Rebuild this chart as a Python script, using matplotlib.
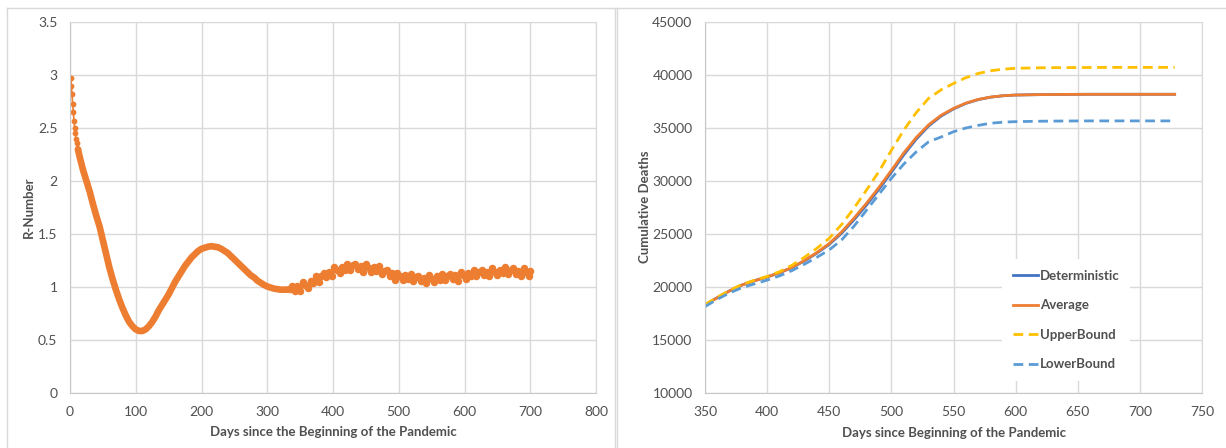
import matplotlib
matplotlib.use("Agg")
import matplotlib.pyplot as plt
from matplotlib.lines import Line2D

plt.rcParams['font.family'] = ['Lato', 'DejaVu Sans']

# ---- left chart: R-number ----
r_days = [1, 2, 3, 4, 5, 6, 7, 8, 9, 10, 12, 15, 20, 25, 30, 35, 40, 45, 50, 55,
          60, 65, 70, 75, 80, 85, 90, 95, 100, 105, 110, 115, 120, 125, 130, 135,
          140, 145, 150, 155, 160, 165, 170, 175, 180, 185, 190, 195, 200, 205,
          210, 215, 220, 225, 230, 235, 240, 245, 250, 255, 260, 265, 270, 275,
          280, 285, 290, 295, 300, 305, 310, 315, 320, 325, 330, 334]
r_vals = [2.975, 2.90, 2.82, 2.73, 2.65, 2.57, 2.50, 2.45, 2.40, 2.36, 2.30, 2.22,
          2.10, 2.00, 1.90, 1.78, 1.67, 1.57, 1.44, 1.31, 1.18, 1.07, 0.97, 0.88,
          0.80, 0.73, 0.67, 0.63, 0.60, 0.585, 0.585, 0.60, 0.63, 0.67, 0.72, 0.78,
          0.83, 0.88, 0.93, 0.99, 1.05, 1.10, 1.15, 1.20, 1.24, 1.28, 1.31, 1.34,
          1.36, 1.37, 1.38, 1.385, 1.38, 1.375, 1.36, 1.34, 1.32, 1.29, 1.26, 1.23,
          1.20, 1.17, 1.14, 1.11, 1.09, 1.06, 1.04, 1.02, 1.005, 0.995, 0.985, 0.98,
          0.975, 0.975, 0.975, 0.98]

# noisy (stochastic) part, every 4 days
noisy_days = list(range(338, 699, 4)) + [700]
noisy_vals = [1.01, 0.965, 1.005, 0.96, 1.045, 1.015, 0.995, 1.06, 1.04, 1.10,
              1.05, 1.10, 1.13, 1.095, 1.14, 1.105, 1.19, 1.16, 1.135, 1.19,
              1.165, 1.22, 1.16, 1.205, 1.22, 1.17, 1.20, 1.145, 1.215, 1.175,
              1.14, 1.185, 1.15, 1.195, 1.125, 1.155, 1.165, 1.105, 1.13, 1.07,
              1.135, 1.10, 1.065, 1.11, 1.075, 1.12, 1.055, 1.095, 1.105, 1.055,
              1.085, 1.035, 1.11, 1.08, 1.05, 1.10, 1.07, 1.125, 1.065, 1.105,
              1.125, 1.075, 1.11, 1.06, 1.14, 1.11, 1.08, 1.135, 1.105, 1.16,
              1.10, 1.14, 1.16, 1.11, 1.145, 1.10, 1.175, 1.14, 1.115, 1.165,
              1.135, 1.185, 1.12, 1.16, 1.175, 1.125, 1.155, 1.10, 1.175, 1.14,
              1.105, 1.15]

# ---- right chart: cumulative deaths ----
d_days = [350, 360, 370, 380, 390, 400, 410, 420, 430, 440, 450, 460, 470, 480,
          490, 500, 510, 520, 530, 540, 550, 560, 570, 580, 590, 600, 620, 640,
          660, 680, 700, 728]
deterministic = [18300, 19000, 19650, 20200, 20600, 20950, 21340, 21830, 22460,
                 23190, 24020, 25080, 26350, 27730, 29220, 30820, 32470, 33950,
                 35190, 36120, 36800, 37320, 37680, 37910, 38040, 38110, 38150,
                 38170, 38180, 38180, 38180, 38180]
average = [18300, 19000, 19650, 20200, 20600, 20950, 21350, 21850, 22500, 23250,
           24100, 25200, 26500, 27900, 29400, 31000, 32650, 34100, 35300, 36200,
           36850, 37350, 37700, 37920, 38050, 38110, 38150, 38170, 38180, 38180,
           38180, 38180]
upper = [18350, 19050, 19700, 20250, 20650, 21000, 21450, 22050, 22800, 23650,
         24600, 25900, 27450, 29150, 30900, 32900, 34800, 36450, 37800, 38600,
         39200, 39750, 40150, 40400, 40550, 40630, 40680, 40700, 40710, 40720,
         40720, 40720]
lower = [18150, 18850, 19450, 19950, 20300, 20650, 21050, 21550, 22150, 22800,
         23500, 24450, 25750, 27250, 28750, 30250, 31600, 32750, 33700, 34150,
         34650, 35000, 35250, 35450, 35550, 35600, 35640, 35660, 35670, 35670,
         35670, 35670]

grey_txt = '#505050'
grid_c = '#D9D9D9'
orange = '#ED7D31'

fig = plt.figure(figsize=(12.26, 4.48), dpi=100)

# chart borders
for xs, ys in [([7 / 1226, 1], [1 - 8 / 448, 1 - 8 / 448]),
               ([7 / 1226, 7 / 1226], [0, 1 - 8 / 448]),
               ([615 / 1226, 615 / 1226], [0, 1 - 8 / 448]),
               ([617 / 1226, 617 / 1226], [0, 1 - 8 / 448])]:
    fig.add_artist(Line2D(xs, ys, color=grid_c, lw=1))

ax1 = fig.add_axes([70 / 1226, 1 - 393 / 448, 526 / 1226, 371 / 448])
ax2 = fig.add_axes([705 / 1226, 1 - 393 / 448, 497 / 1226, 371 / 448])


def style(ax):
    ax.grid(True, color=grid_c, lw=1)
    ax.set_axisbelow(True)
    for s in ax.spines.values():
        s.set_color(grid_c)
    ax.spines['left'].set_color('#C8C8C8')
    ax.spines['bottom'].set_color('#C8C8C8')
    ax.tick_params(length=0, labelsize=10, labelcolor=grey_txt)
    ax.tick_params(axis='x', pad=9)
    ax.tick_params(axis='y', pad=9)


# left: first days as separate dots, smooth part as a thick band, then noisy dots
n0 = 10
ax1.plot(r_days[:n0 + 1], r_vals[:n0 + 1], color=orange, lw=1.2, marker='o',
         ms=4.2, mew=0)
ax1.plot(r_days[n0:], r_vals[n0:], color=orange, lw=4.8, solid_capstyle='round',
         solid_joinstyle='round')
ax1.plot(r_days[-1:] + noisy_days, r_vals[-1:] + noisy_vals, color=orange, lw=3,
         marker='o', ms=5.4, mew=0)
ax1.set_xlim(0, 800)
ax1.set_ylim(0, 3.5)
ax1.set_xticks(range(0, 801, 100))
ax1.set_yticks([0, 0.5, 1, 1.5, 2, 2.5, 3, 3.5])
ax1.set_yticklabels(['0', '0.5', '1', '1.5', '2', '2.5', '3', '3.5'])
style(ax1)

# right
ax2.plot(d_days, deterministic, color='#4472C4', lw=2, label='Deterministic')
ax2.plot(d_days, average, color=orange, lw=2, label='Average')
ax2.plot(d_days, upper, color='#FFC000', lw=2, dashes=(3.5, 2), label='UpperBound')
ax2.plot(d_days, lower, color='#5B9BD5', lw=2, dashes=(3.5, 2), label='LowerBound')
ax2.set_xlim(350, 750)
ax2.set_ylim(10000, 45000)
ax2.set_xticks(range(350, 751, 50))
ax2.set_yticks(range(10000, 45001, 5000))
style(ax2)

leg = ax2.legend(loc='upper left', bbox_to_anchor=(0.598, 0.36), borderaxespad=0,
                 frameon=True, fancybox=False, framealpha=1, facecolor='white',
                 edgecolor='none', prop={'weight': 'bold', 'size': 9.5},
                 handlelength=1.9, handletextpad=0.15, labelspacing=1.32,
                 borderpad=0.8)
for t in leg.get_texts():
    t.set_color(grey_txt)

# axis titles
fig.text(333 / 1226, 1 - 432 / 448, 'Days since the Beginning of the Pandemic',
         ha='center', va='center', fontsize=9.5, fontweight='bold', color=grey_txt)
fig.text(954 / 1226, 1 - 433 / 448, 'Days since Beginning of the Pandemic',
         ha='center', va='center', fontsize=9.5, fontweight='bold', color=grey_txt)
fig.text(29 / 1226, 1 - 207 / 448, 'R-Number', rotation=90, ha='center',
         va='center', fontsize=9.5, fontweight='bold', color=grey_txt)
fig.text(645 / 1226, 1 - 207 / 448, 'Cumulative Deaths', rotation=90, ha='center',
         va='center', fontsize=9.5, fontweight='bold', color=grey_txt)

fig.savefig('out.png', dpi=100)
